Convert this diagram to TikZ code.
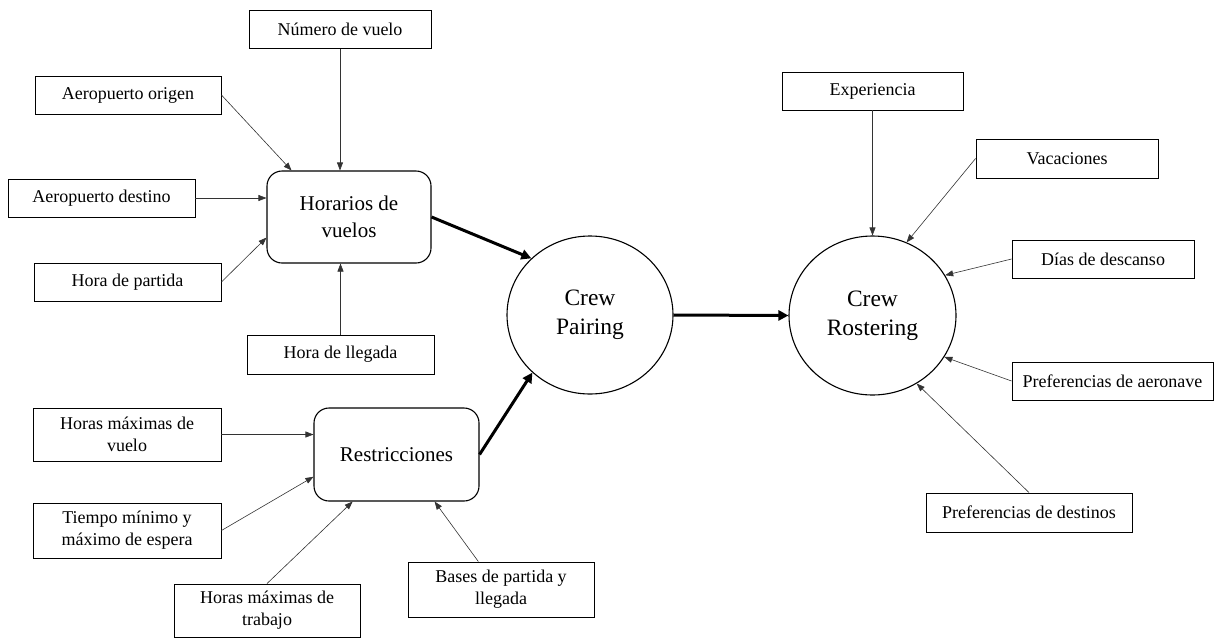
\documentclass[tikz,border=0pt]{standalone}
\usepackage{fontspec}
\setmainfont{Liberation Serif}
\usetikzlibrary{arrows.meta,shapes.geometric,calc}
\begin{document}
\begin{tikzpicture}[x=1pt,y=-1pt,
  inbox/.style={draw, line width=0.9pt, inner sep=0pt, align=center, font=\fontsize{18}{22}\selectfont},
  midbox/.style={draw, line width=1.1pt, rounded corners=15pt, inner sep=0pt, align=center, font=\fontsize{21}{27}\selectfont},
  hub/.style={draw, ellipse, line width=1.1pt, inner sep=0pt, align=center, font=\fontsize{23.5}{29}\selectfont},
  thinarrow/.style={line width=0.6pt, draw=black!80, -{Triangle[length=8pt,width=6pt]}},
  thickarrow/.style={line width=3pt, -{Triangle[length=10pt,width=10pt]}}]
\useasboundingbox (0,0) rectangle (1215,638);

% central process nodes
\node[midbox, minimum width=164pt, minimum height=92pt] (hor) at (349,217) {Horarios de\\vuelos};
\node[midbox, minimum width=165pt, minimum height=93pt] (res) at (396.5,454.5) {Restricciones};
\node[hub, minimum width=166pt, minimum height=158pt] (pair) at (590,315) {Crew\\Pairing};
\node[hub, minimum width=167pt, minimum height=159pt] (rost) at (872.5,315.5) {Crew\\Rostering};

% inputs of Horarios
\node[inbox, minimum width=182pt, minimum height=38pt] (num) at (340,29.5) {Número de vuelo};
\node[inbox, minimum width=186pt, minimum height=38pt] (orig) at (128,95) {Aeropuerto origen};
\node[inbox, minimum width=187pt, minimum height=38pt] (dest) at (101.5,198) {Aeropuerto destino};
\node[inbox, minimum width=187pt, minimum height=38pt] (part) at (127.5,282) {Hora de partida};
\node[inbox, minimum width=187pt, minimum height=39pt] (lleg) at (340.5,354.5) {Hora de llegada};

% inputs of Restricciones
\node[inbox, minimum width=188pt, minimum height=53pt] (hmv) at (127,434.5) {Horas máximas de\\vuelo};
\node[inbox, minimum width=188pt, minimum height=55pt] (tmp) at (127,530.5) {Tiempo mínimo y\\máximo de espera};
\node[inbox, minimum width=186pt, minimum height=53pt] (htr) at (267,610.5) {Horas máximas de\\trabajo};
\node[inbox, minimum width=186pt, minimum height=55pt] (bas) at (501,589.5) {Bases de partida y\\llegada};

% inputs of Rostering
\node[inbox, minimum width=181pt, minimum height=38pt] (exp) at (872.5,91) {Experiencia};
\node[inbox, minimum width=182pt, minimum height=39pt] (vac) at (1067,158.5) {Vacaciones};
\node[inbox, minimum width=182pt, minimum height=38pt] (dias) at (1103,259) {Días de descanso};
\node[inbox, minimum width=201pt, minimum height=38pt] (aer) at (1112.5,381) {Preferencias de aeronave};
\node[inbox, minimum width=206pt, minimum height=39pt] (des) at (1029,512.5) {Preferencias de destinos};

% thin connectors
\draw[thinarrow] (num.south) -- (num.south |- hor.north);
\draw[thinarrow] (orig.east) -- (hor.141);
\draw[thinarrow] (dest.east) -- (dest.east -| hor.west);
\draw[thinarrow] (part.east) -- (hor.194);
\draw[thinarrow] (lleg.north) -- (lleg.north |- hor.south);

\draw[thinarrow] (hmv.east) -- (hmv.east -| res.west);
\draw[thinarrow] (tmp.east) -- (res.195);
\draw[thinarrow] (htr.north) -- (res.227);
\draw[thinarrow] (bas.129) -- (res.309);

\draw[thinarrow] (exp.south) -- (rost.north);
\draw[thinarrow] (vac.west) -- (rost.65);
\draw[thinarrow] (dias.west) -- (rost.29);
\draw[thinarrow] (aer.west) -- (rost.-30);
\draw[thinarrow] (des.north) -- (rost.-57);

% thick connectors
\draw[thickarrow] (hor.east) -- (pair.136);
\draw[thickarrow] (res.east) -- (pair.225);
\draw[thickarrow] (pair.east) -- (rost.west);
\end{tikzpicture}
\end{document}
